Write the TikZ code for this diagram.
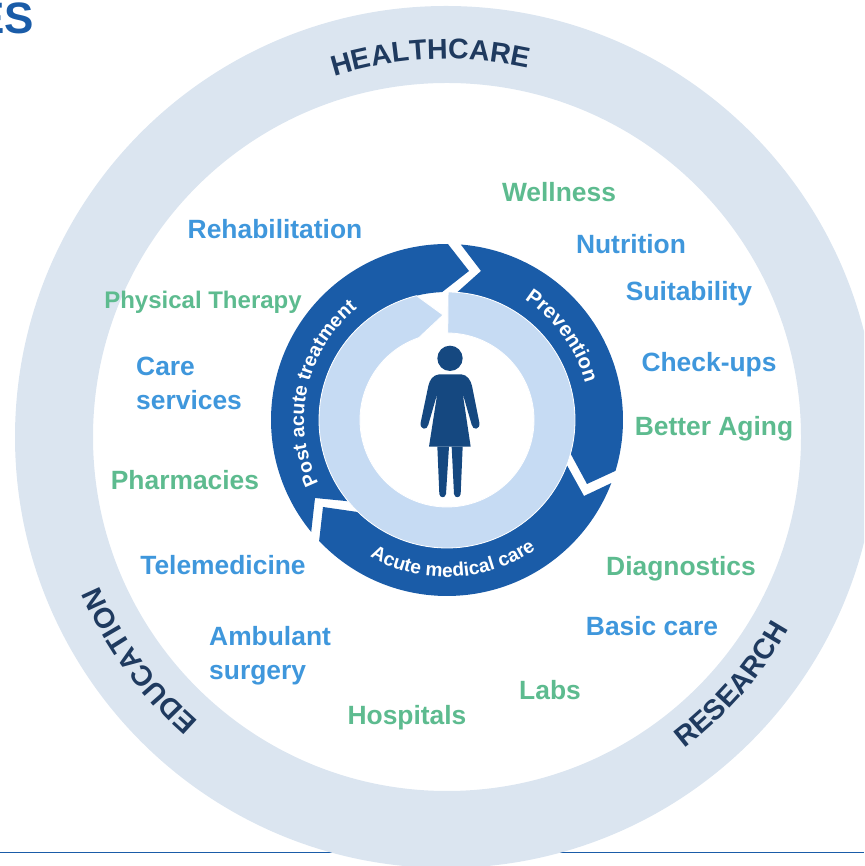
\documentclass[tikz,border=0pt]{standalone}
\usepackage{fontspec}
\setmainfont{Liberation Sans}
\usetikzlibrary{decorations.text}

\definecolor{ringgrey}{HTML}{DBE5F0}
\definecolor{ringdark}{HTML}{1A5CA8}
\definecolor{ringlight}{HTML}{C6DBF3}
\definecolor{personblue}{HTML}{154880}
\definecolor{titlenavy}{HTML}{1F3A5F}
\definecolor{lblblue}{HTML}{3F97DC}
\definecolor{lblgreen}{HTML}{5DBB8F}

\tikzset{
 lblb/.style={text=lblblue, font=\fontsize{26.4}{34}\selectfont\bfseries, inner sep=0pt, align=left},
 lblg/.style={text=lblgreen, font=\fontsize{26.4}{34}\selectfont\bfseries, inner sep=0pt, align=left},
 bigarc/.style={decorate, decoration={text along path, text align=center,
   text={|\fontsize{28.5}{30}\selectfont\bfseries\color{titlenavy}|#1}}},
 smallarc/.style 2 args={decorate, decoration={text along path, text align=center,
   text={|\fontsize{#1}{#1}\selectfont\bfseries\color{white}|#2}}},
}

\begin{document}
\begin{tikzpicture}[x=1pt,y=1pt]
 \useasboundingbox (0,0) rectangle (864,866);
 \clip (0,0) rectangle (864,866);

	% Titre et filet
 \node[anchor=east, inner sep=0pt, text=ringdark, font=\fontsize{44}{44}\selectfont\bfseries] (title) at (34,848) {ES};
 \draw[ringdark, line width=1pt] (0,13) -- (864,13);

	% Anneau exterieur
 \fill[ringgrey, even odd rule] (446,429) circle (431) (447,429) circle (354);
 \path[bigarc={HEALTHCARE}] (447,429) ++(109.5:378) arc[start angle=109.5, end angle=75.5, radius=378];
 \path[bigarc={EDUCATION}] (447,429) ++(231:378) arc[start angle=231, end angle=201, radius=378];
 \path[bigarc={RESEARCH}] (447,429) ++(-56:392) arc[start angle=-56, end angle=-26, radius=392];

	% Anneaux du cycle
 \begin{scope}[shift={(447,446)}]
  \fill[ringdark] (85.5:176) arc[start angle=85.5, end angle=-16.8, radius=176]
    -- (140,-64) -- (-15.2:128) arc[start angle=-15.2, end angle=85.5, radius=128]
    -- (34,149) -- cycle;
  \fill[ringdark] (-21:176) -- (137,-76) -- (-20.6:128)
    arc[start angle=-20.6, end angle=-134, radius=128]
    -- (-124,-87) -- (-136.6:176) arc[start angle=-136.6, end angle=-21, radius=176] -- cycle;
  \fill[ringdark] (219.5:176) -- (-132,-78) -- (219.4:128)
    arc[start angle=219.4, end angle=92.2, radius=128]
    -- (22,149) -- (89.7:176) arc[start angle=89.7, end angle=219.5, radius=176] -- cycle;
  \filldraw[fill=ringlight, draw=white, line width=0.8pt] (89.5:128)
    arc[start angle=89.5, end angle=-256.2, radius=128]
    -- (-4,105) -- (108.9:87) arc[start angle=-251.1, end angle=89.5, radius=87] -- cycle;

  \path[smallarc={20.5}{Prevention}] (60:143) arc[start angle=60, end angle=12, radius=143];
  \path[smallarc={19.5}{Post acute treatment}] (212.5:143) arc[start angle=212.5, end angle=122.5, radius=143];
  \path[smallarc={19.2}{Acute medical care}] (234.5:157) arc[start angle=234.5, end angle=310.5, radius=157];
 \end{scope}

	% Silhouette
 \begin{scope}[shift={(400,536)}, x=0.3333pt, y=-0.3333pt]
  \fill[personblue] (150,85) circle (38);
  \fill[personblue] (118,133) -- (184,133) .. controls (202,135) and (212,150) .. (216,168)
    -- (238,278) .. controls (241,300) and (218,302) .. (215,284) -- (188,190) -- (212,350)
    -- (87,350) -- (112,190) -- (85,284) .. controls (82,302) and (59,300) .. (62,278)
    -- (85,168) .. controls (89,150) and (98,135) .. (118,133) -- cycle;
  \fill[personblue] (112,350) -- (147,350) -- (138,492) .. controls (136,505) and (120,505) .. (118,492) -- cycle;
  \fill[personblue] (155,350) -- (188,350) -- (182,492) .. controls (180,505) and (164,505) .. (162,492) -- cycle;
 \end{scope}

	% Etiquettes
 \node[lblg] (wellness) at (559,674) {Wellness};
 \node[lblb] (nutrition) at (631,622) {Nutrition};
 \node[lblb] (suitability) at (689,572) {Suitability};
 \node[lblb] (checkups) at (709,501) {Check-ups};
 \node[lblg] (aging) at (714,437) {Better Aging};
 \node[lblg] (diagnostics) at (681,297) {Diagnostics};
 \node[lblb] (basic) at (652,240) {Basic care};
 \node[lblg] (labs) at (550,176) {Labs};
 \node[lblg] (hospitals) at (407,148) {Hospitals};
 \node[lblb, anchor=west] (ambulant) at (209,210) {Ambulant\\surgery};
 \node[lblb] (telemedicine) at (223,301) {Telemedicine};
 \node[lblg] (pharmacies) at (185,386) {Pharmacies};
 \node[lblb, anchor=west] (care) at (136,483) {Care\\services};
 \node[lblg, font=\fontsize{24}{30}\selectfont\bfseries] (therapy) at (203,564) {Physical Therapy};
 \node[lblb] (rehab) at (275,637) {Rehabilitation};
\end{tikzpicture}
\end{document}
